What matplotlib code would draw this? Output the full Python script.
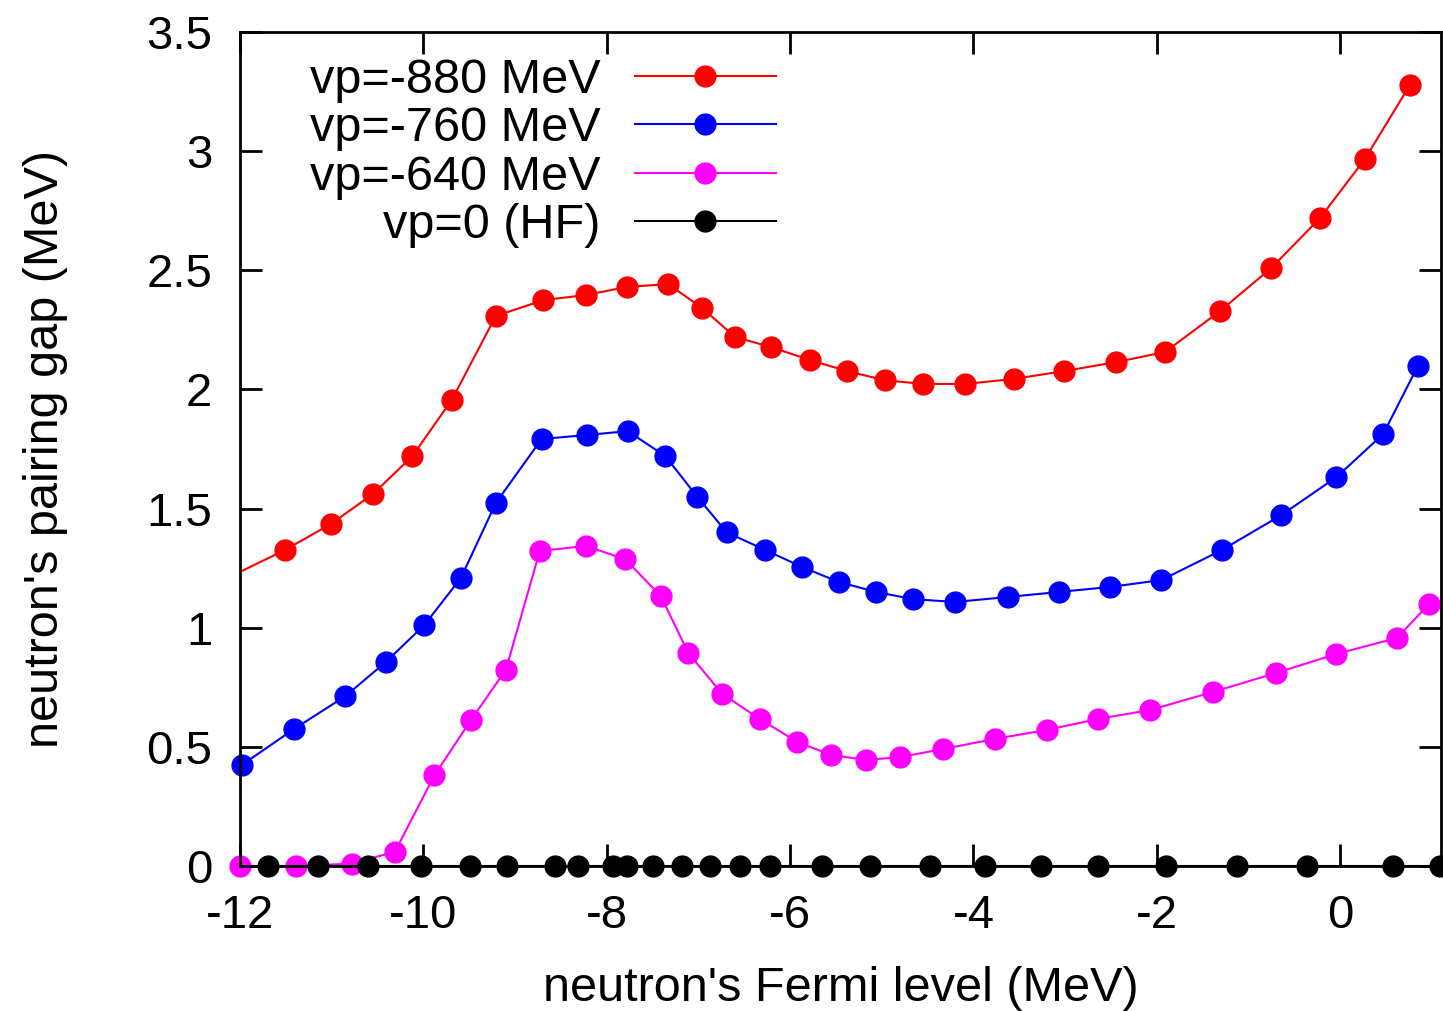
import matplotlib
matplotlib.use('Agg')
import matplotlib.pyplot as plt

plt.rcParams['font.family'] = ['Liberation Sans', 'DejaVu Sans']
plt.rcParams['axes.unicode_minus'] = False

# vp = -880 MeV (first point lies just left of the plotted range)
x_880 = [-12.45, -11.51, -11.01, -10.55, -10.12, -9.69, -9.21, -8.69, -8.23, -7.78, -7.33,
         -6.96, -6.60, -6.21, -5.78, -5.38, -4.97, -4.55, -4.09, -3.56, -3.01, -2.44,
         -1.91, -1.31, -0.75, -0.22, 0.27, 0.76]
y_880 = [1.15, 1.326, 1.435, 1.561, 1.72, 1.956, 2.308, 2.375, 2.396, 2.43, 2.442,
         2.342, 2.22, 2.178, 2.123, 2.077, 2.039, 2.023, 2.023, 2.044, 2.077, 2.115,
         2.157, 2.329, 2.51, 2.719, 2.967, 3.277]

# vp = -760 MeV
x_760 = [-11.98, -11.41, -10.85, -10.41, -9.99, -9.59, -9.21, -8.71, -8.21, -7.77, -7.36,
         -7.01, -6.69, -6.27, -5.87, -5.47, -5.06, -4.66, -4.20, -3.62, -3.07, -2.51,
         -1.95, -1.29, -0.64, -0.04, 0.47, 0.85]
y_760 = [0.424, 0.575, 0.713, 0.856, 1.011, 1.209, 1.523, 1.792, 1.809, 1.825, 1.72,
         1.548, 1.40, 1.326, 1.255, 1.192, 1.15, 1.12, 1.108, 1.129, 1.15, 1.171,
         1.20, 1.326, 1.473, 1.632, 1.813, 2.10]

# vp = -640 MeV
x_640 = [-12.0, -11.39, -10.78, -10.31, -9.88, -9.48, -9.10, -8.73, -8.23, -7.80, -7.41,
         -7.11, -6.74, -6.33, -5.92, -5.55, -5.17, -4.80, -4.33, -3.77, -3.20, -2.64,
         -2.07, -1.39, -0.70, -0.04, 0.62, 0.97]
y_640 = [0.0, 0.0, 0.01, 0.06, 0.38, 0.613, 0.823, 1.322, 1.343, 1.288, 1.133,
         0.894, 0.722, 0.617, 0.52, 0.466, 0.445, 0.457, 0.491, 0.533, 0.571, 0.617,
         0.655, 0.73, 0.81, 0.89, 0.957, 1.10]

# vp = 0 (HF)
x_hf = [-11.69, -11.15, -10.60, -10.03, -9.49, -9.09, -8.56, -8.31, -7.93, -7.78, -7.49,
        -7.18, -6.87, -6.55, -6.22, -5.65, -5.13, -4.47, -3.87, -3.26, -2.64, -1.90,
        -1.13, -0.36, 0.58, 1.09]
y_hf = [0.0] * len(x_hf)

xticks = [-12, -10, -8, -6, -4, -2, 0]
xtick_labels = ['-12', '-10', '-8', '-6', '-4', '-2', '0']
yticks = [0, 0.5, 1, 1.5, 2, 2.5, 3, 3.5]
ytick_labels = ['0', '0.5', '1', '1.5', '2', '2.5', '3', '3.5']

fig = plt.figure(figsize=(14.43, 10.11), dpi=100)
ax = fig.add_axes([240 / 1443, 1 - 866 / 1011, 1201 / 1443, 834 / 1011])

ms = 15
ax.plot(x_880, y_880, '-o', color='#ff0000', lw=1.5, ms=ms, label='vp=-880 MeV', clip_on=True)
ax.plot(x_760, y_760, '-o', color='#0000ff', lw=1.5, ms=ms, label='vp=-760 MeV', clip_on=False)
ax.plot(x_640, y_640, '-o', color='#ff00ff', lw=1.5, ms=ms, label='vp=-640 MeV', clip_on=False)
ax.plot(x_hf, y_hf, '-o', color='black', lw=1.5, ms=ms, label='vp=0 (HF)', clip_on=False, zorder=3)

ax.set_xlim(-12, 1.1)
ax.set_ylim(0, 3.5)
ax.set_xticks(xticks)
ax.set_xticklabels(xtick_labels)
ax.set_yticks(yticks)
ax.set_yticklabels(ytick_labels)
ax.tick_params(direction='in', length=16, width=2, top=True, right=True, labelsize=34, pad=20)
for sp in ax.spines.values():
    sp.set_linewidth(2)

ax.set_xlabel("neutron's Fermi level (MeV)", fontsize=35, labelpad=20)
ax.set_ylabel("neutron's pairing gap (MeV)", fontsize=35, labelpad=56)

ax.legend(loc='upper right', bbox_to_anchor=(0.446, 0.969), frameon=False, markerfirst=False,
          fontsize=35, handlelength=2.9, handletextpad=0.7, labelspacing=0.07,
          borderpad=0, borderaxespad=0)

fig.savefig('out.png', dpi=100)
